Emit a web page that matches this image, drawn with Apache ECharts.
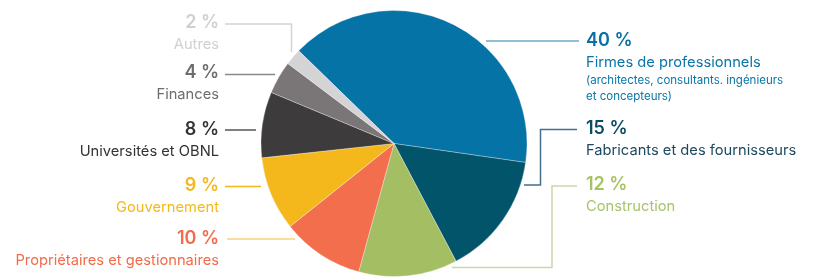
<!DOCTYPE html>
<html>
<head>
<meta charset="utf-8">
<script src="https://cdn.jsdelivr.net/npm/echarts@6/dist/echarts.min.js"></script>
<style>html,body{margin:0;padding:0;background:#fff}#c{width:813px;height:278px}</style>
</head>
<body>
<div id="c"></div>
<script>
// ---- data ----
const categories = ['Firmes de professionnels', 'Fabricants et des fournisseurs', 'Construction', 'Propriétaires et gestionnaires', 'Gouvernement', 'Universités et OBNL', 'Finances', 'Autres'];
const values = [40, 15, 12, 10, 9, 8, 4, 2];
const subNotes = ['(architectes, consultants. ingénieurs\net concepteurs)', '', '', '', '', '', '', ''];

// ---- styles ----
const sliceColors = ['#0673A6', '#02546B', '#A4BE64', '#F26E4D', '#F5B81C', '#3D3B3C', '#7A7576', '#D4D4D6'];
const pctColors  = ['#0A6FA3', '#0C4B64', '#A6C166', '#F26B4C', '#F5B81C', '#333333', '#6E6C6D', '#D0D0D0'];
const nameColors = ['#0A75A8', '#1B4A60', '#A9C36B', '#F26B4C', '#F5B81C', '#333333', '#6E6C6D', '#D0D0D0'];
const lineColors = ['#6FA9C9', '#41708A', '#C9D9A5', '#F8D27C', '#F5B81C', '#555555', '#8A8889', '#D4D4D4'];

// label layout: [x, yTop, align]
const labelPos = [
  [586, 30, 'left'], [586, 118, 'left'], [586, 174, 'left'], [219, 228, 'right'],
  [219, 175, 'right'], [219, 119, 'right'], [219, 62, 'right'], [219, 12, 'right']
];
const linePts = [
  [[579, 41], [486, 41]],
  [[577, 129.5], [540.5, 129.5], [540.5, 185], [524, 185]],
  [[577, 186], [552, 186], [552, 267.5], [452, 267.5]],
  [[227, 239], [295, 239]],
  [[225, 186.5], [261, 186.5]],
  [[225, 130], [256, 130]],
  [[225, 74.5], [275, 74.5]],
  [[225, 24], [291.5, 24], [291.5, 52]]
];

const FONT = 'Inter, "Open Sans", sans-serif';
const rich = {};
sliceColors.forEach((c, i) => {
  rich['p' + i] = { fontFamily: FONT, fontSize: 18, fontWeight: 600, color: pctColors[i], lineHeight: 22 };
  rich['n' + i] = { fontFamily: FONT, fontSize: 14.7, color: nameColors[i], lineHeight: 21 };
  rich['s' + i] = { fontFamily: FONT, fontSize: 11.5, color: nameColors[i], lineHeight: 16 };
});

const data = categories.map((name, i) => ({
  name, value: values[i],
  itemStyle: { color: sliceColors[i] },
  labelLine: { lineStyle: { color: lineColors[i], width: 1.5 } }
}));

const chart = echarts.init(document.getElementById('c'));
chart.setOption({
  animation: false,
  series: [{
    type: 'pie',
    center: [394, 143.5],
    radius: 133,
    startAngle: 135.8,
    clockwise: true,
    data,
    itemStyle: { borderColor: 'rgba(255,255,255,0.6)', borderWidth: 0.5 },
    label: {
      show: true,
      formatter: p => {
        const i = p.dataIndex;
        let s = '{p' + i + '|' + p.value + ' %}\n{n' + i + '|' + p.name + '}';
        if (subNotes[i]) s += '\n' + subNotes[i].split('\n').map(t => '{s' + i + '|' + t + '}').join('\n');
        return s;
      },
      rich
    },
    labelLine: { show: true, smooth: false },
    labelLayout: params => {
      const i = params.dataIndex;
      const lp = labelPos[i];
      return {
        x: lp[0], y: lp[1], align: lp[2], verticalAlign: 'top',
        labelLinePoints: linePts[i]
      };
    }
  }]
});
</script>
</body>
</html>
